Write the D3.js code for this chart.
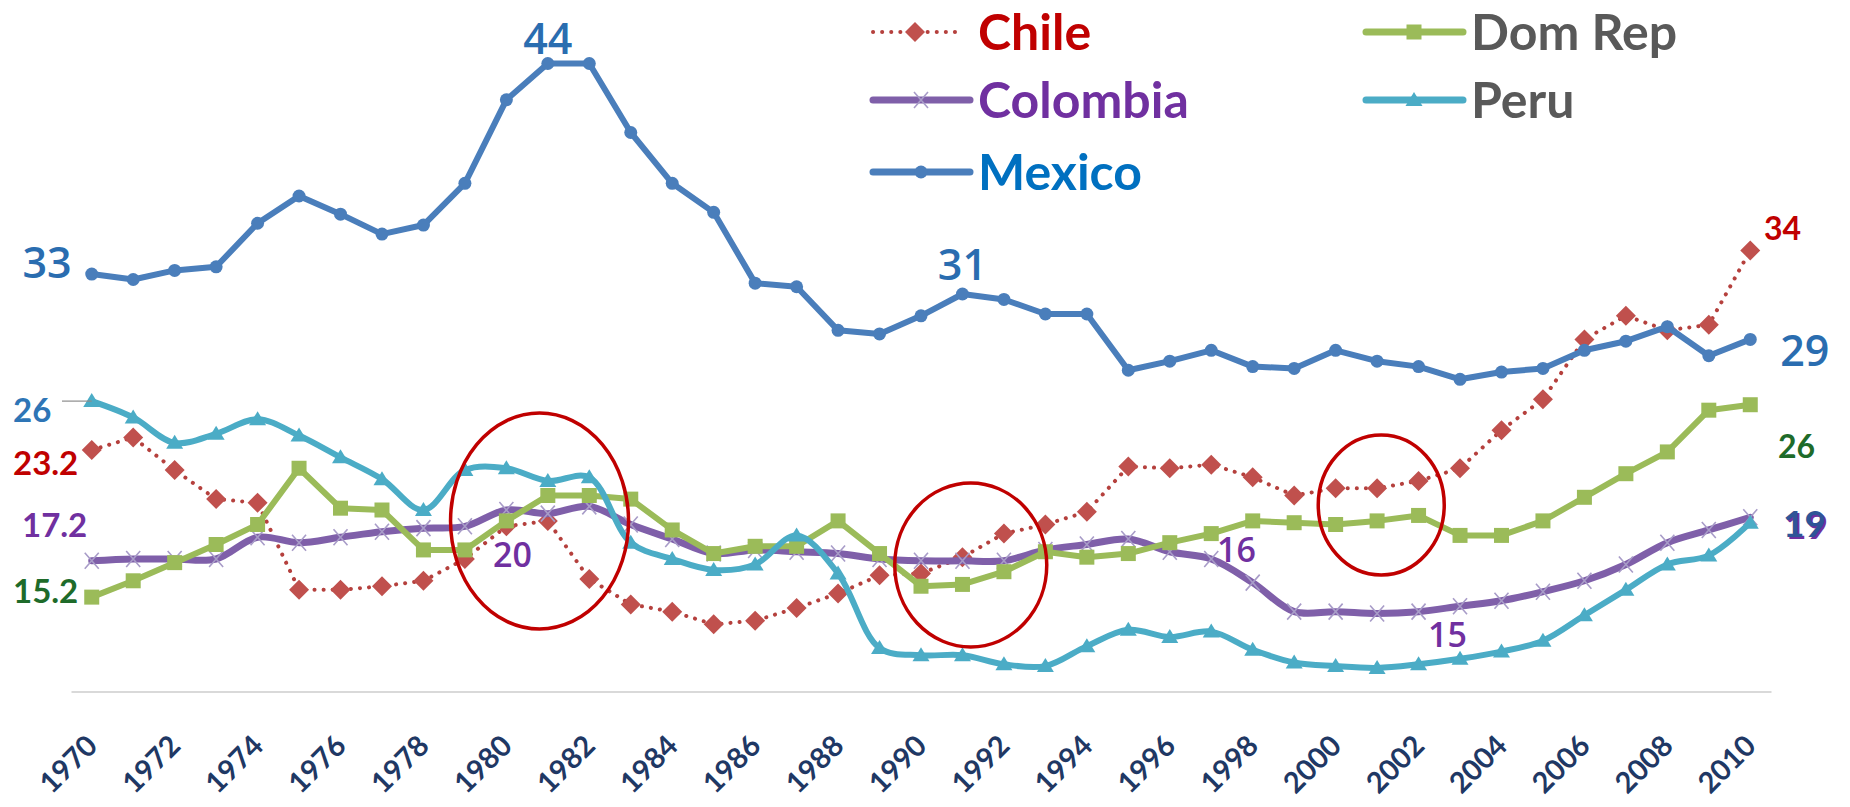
<!DOCTYPE html>
<html>
<head>
<meta charset="utf-8">
<script src="https://cdn.jsdelivr.net/npm/d3@7"></script>
<style>
  body { margin: 0; background: #fff; }
  svg { display: block; font-family: Lato, "Open Sans", sans-serif; }
</style>
</head>
<body>
<div id="chart"></div>
<script>
// data
const years = d3.range(1970, 2011);
const yearLabels = years.filter(d => d % 2 === 0);

const chile = [23.3, 24.0, 22.2, 20.6, 20.4, 15.6, 15.6, 15.8, 16.1, 17.3,
  19.1, 19.4, 16.2, 14.8, 14.4, 13.7, 13.9, 14.6, 15.4, 16.4,
  16.5, 17.4, 18.7, 19.2, 19.9, 22.4, 22.3, 22.5, 21.8, 20.8,
  21.2, 21.2, 21.6, 22.3, 24.4, 26.1, 29.4, 30.7, 29.9, 30.2, 34.3];
const colombia = [17.2, 17.3, 17.3, 17.3, 18.5, 18.2, 18.5, 18.8, 19.0, 19.1,
  20.0, 19.8, 20.2, 19.2, 18.4, 17.6, 17.8, 17.7, 17.6, 17.3,
  17.2, 17.2, 17.2, 17.8, 18.1, 18.4, 17.7, 17.3, 16.0, 14.4,
  14.4, 14.3, 14.4, 14.7, 15.0, 15.5, 16.1, 17.0, 18.2, 18.9, 19.6];
const mexico = [33.0, 32.7, 33.2, 33.4, 35.8, 37.3, 36.3, 35.2, 35.7, 38.0,
  42.6, 44.6, 44.6, 40.8, 38.0, 36.4, 32.5, 32.3, 29.9, 29.7,
  30.7, 31.9, 31.6, 30.8, 30.8, 27.7, 28.2, 28.8, 27.9, 27.8,
  28.8, 28.2, 27.9, 27.2, 27.6, 27.8, 28.8, 29.3, 30.1, 28.5, 29.4];
const domRep = [15.2, 16.1, 17.1, 18.1, 19.2, 22.3, 20.1, 20.0, 17.8, 17.8,
  19.4, 20.8, 20.8, 20.6, 18.9, 17.6, 18.0, 18.0, 19.4, 17.6,
  15.8, 15.9, 16.6, 17.7, 17.4, 17.6, 18.2, 18.7, 19.4, 19.3,
  19.2, 19.4, 19.7, 18.6, 18.6, 19.4, 20.7, 22.0, 23.2, 25.5, 25.8];
const peru = [26.0, 25.1, 23.7, 24.2, 25.0, 24.1, 22.9, 21.7, 20.0, 22.2,
  22.3, 21.6, 21.8, 18.2, 17.3, 16.7, 17.0, 18.6, 16.5, 12.4,
  12.0, 12.0, 11.5, 11.4, 12.5, 13.4, 13.0, 13.3, 12.3, 11.6,
  11.4, 11.3, 11.5, 11.8, 12.2, 12.8, 14.2, 15.6, 17.0, 17.5, 19.3];

// value labels written on the chart: [year, value, text]
const mexicoLabels = [[1970, 33, "33"], [1981, 44, "44"], [1991, 31, "31"], [2010, 29, "29"]];
const startLabels = ["26", "23.2", "17.2", "15.2"];
const endLabels = ["34", "26", "19", "19"];
const colombiaLabels = ["20", "16", "15"];
// circled periods
const circledYears = [1980.8, 1991.2, 2001.1];

const svgWidth = 1850;
const svgHeight = 807;

const svg = d3.select("#chart")
  .append("svg")
  .attr("width", svgWidth)
  .attr("height", svgHeight);

const chartGroup = svg.append("g");

// scales
const x = d3.scalePoint().domain(years).range([71, 1771]).padding(0.5);
const y = d3.scaleLinear().domain([10, 45]).range([691.5, 56.25]);
// for the circles that sit between years
const xYear = d3.scaleLinear().domain([1970, 2010]).range([x(1970), x(2010)]);

// x axis
const xAxis = chartGroup.append("g")
  .attr("transform", `translate(0, ${y(10)})`)
  .call(d3.axisBottom(x).tickValues(yearLabels).tickSize(0).tickSizeOuter(0));
xAxis.select(".domain").attr("stroke", "#d9d9d9").attr("stroke-width", 2);
xAxis.selectAll("text")
  .attr("x", 0).attr("y", 0).attr("dy", 0)
  .attr("text-anchor", "end")
  .attr("transform", "translate(7, 56) rotate(-45)")
  .attr("font-family", "Lato, sans-serif")
  .attr("font-weight", "bold")
  .attr("font-size", "29px")
  .attr("fill", "#1f3864");

const series = [
  { name: "Chile", values: chile, color: "#c0504d", text: "#c00000", marker: "diamond", dotted: true },
  { name: "Colombia", values: colombia, color: "#7f5fa9", text: "#7030a0", marker: "cross", smooth: true, width: 7 },
  { name: "Mexico", values: mexico, color: "#4a7ebb", text: "#0070c0", marker: "circle" },
  { name: "Dom Rep", values: domRep, color: "#9bbb59", text: "#595959", marker: "square" },
  { name: "Peru", values: peru, color: "#4bacc6", text: "#595959", marker: "triangle", smooth: true }
];

const markerPath = {
  diamond: "M0,-10L10,0L0,10L-10,0Z",
  square: "M-7.5,-7.5H7.5V7.5H-7.5Z",
  triangle: "M0,-8L8.5,6H-8.5Z",
  cross: "M-7,-8L7,8M-7,8L7,-8"
};

function drawMarker(g, s) {
  if (s.marker === "circle") {
    g.append("circle").attr("r", 6.5).attr("fill", s.color);
  } else if (s.marker === "cross") {
    g.append("path").attr("d", markerPath.cross)
      .attr("stroke", "#a89cc8").attr("stroke-width", 1.6).attr("fill", "none");
  } else {
    g.append("path").attr("d", markerPath[s.marker]).attr("fill", s.color);
  }
}

// lines + markers
series.forEach(function (s) {
  const pts = years.map((yr, i) => ({ year: yr, value: s.values[i] }));
  const line = d3.line()
    .x(d => x(d.year))
    .y(d => y(d.value))
    .curve(s.smooth ? d3.curveCatmullRom.alpha(0.5) : d3.curveLinear);

  chartGroup.append("path")
    .datum(pts)
    .attr("fill", "none")
    .attr("stroke", s.dotted ? "#b5403d" : s.color)
    .attr("stroke-width", s.dotted ? 4 : (s.width || 6))
    .attr("stroke-linecap", "round")
    .attr("stroke-linejoin", "round")
    .attr("stroke-dasharray", s.dotted ? "0.1 9" : null)
    .attr("d", line);

  chartGroup.selectAll(null)
    .data(pts)
    .enter()
    .append("g")
    .attr("transform", d => `translate(${x(d.year)}, ${y(d.value)})`)
    .each(function () { drawMarker(d3.select(this), s); });
});

// red circles
chartGroup.selectAll(null)
  .data(circledYears)
  .enter()
  .append("ellipse")
  .attr("cx", d => xYear(d))
  .attr("cy", (d, i) => [521, 565, 505][i])
  .attr("rx", (d, i) => [89, 76, 63][i])
  .attr("ry", (d, i) => [108, 82, 70][i])
  .attr("fill", "none")
  .attr("stroke", "#c00000")
  .attr("stroke-width", 3.5);

// Mexico value labels
const mexOffset = [4, -20, -30, 19];
chartGroup.selectAll(null)
  .data(mexicoLabels)
  .enter()
  .append("text")
  .attr("x", (d, i) => i === 0 ? x(d[0]) - 20 : i === 3 ? x(d[0]) + 30 : x(d[0]))
  .attr("y", (d, i) => y(d[1]) + mexOffset[i])
  .attr("text-anchor", (d, i) => i === 0 ? "end" : i === 3 ? "start" : "middle")
  .attr("font-family", "'Open Sans', sans-serif")
  .attr("font-weight", 600)
  .attr("font-size", "43px")
  .attr("fill", "#2a6db0")
  .text(d => d[2]);

// labels at the start of the lines
const startColors = ["#2e75b6", "#c00000", "#7030a0", "#1e6b2a"];
const startY = [422, 475, 537, 603];
const startX = [13, 13, 22, 13];
chartGroup.selectAll(null)
  .data(startLabels)
  .enter()
  .append("text")
  .attr("x", (d, i) => startX[i])
  .attr("y", (d, i) => startY[i])
  .attr("font-size", "33px")
  .attr("font-weight", "bold")
  .attr("fill", (d, i) => startColors[i])
  .text(d => d);

// little leader line for Peru's 26
chartGroup.append("line")
  .attr("x1", 62).attr("x2", x(1970))
  .attr("y1", y(peru[0])).attr("y2", y(peru[0]))
  .attr("stroke", "#8c8c8c").attr("stroke-width", 1.2);

// labels at the end of the lines
const endColors = ["#c00000", "#1e6b2a", "#7030a0", "#2f5597"];
const endY = [240, 458, 539, 537];
const endX = [1764, 1778, 1785, 1783];
const endSize = [32, 32, 37, 37];
chartGroup.selectAll(null)
  .data(endLabels)
  .enter()
  .append("text")
  .attr("x", (d, i) => endX[i])
  .attr("y", (d, i) => endY[i])
  .attr("font-size", (d, i) => endSize[i] + "px")
  .attr("font-weight", "bold")
  .attr("fill", (d, i) => endColors[i])
  .text(d => d);

// Colombia labels in the middle
const colX = [493, 1217, 1428];
const colY = [567, 562, 647];
chartGroup.selectAll(null)
  .data(colombiaLabels)
  .enter()
  .append("text")
  .attr("x", (d, i) => colX[i])
  .attr("y", (d, i) => colY[i])
  .attr("font-family", "'Open Sans', sans-serif")
  .attr("font-weight", 600)
  .attr("font-size", "34px")
  .attr("fill", "#7030a0")
  .text(d => d);

// legend, 2 columns
const legendX = [873, 873, 873, 1366, 1366];
const legendY = [32, 100, 172, 32, 100];
const legend = chartGroup.selectAll(".legend")
  .data(series)
  .enter()
  .append("g")
  .attr("class", "legend")
  .attr("transform", (d, i) => `translate(${legendX[i]}, ${legendY[i]})`);

legend.append("line")
  .attr("x1", 0).attr("x2", d => d.dotted ? 84 : 97)
  .attr("stroke", d => d.dotted ? "#b5403d" : d.color)
  .attr("stroke-width", d => d.dotted ? 4 : 7)
  .attr("stroke-linecap", "round")
  .attr("stroke-dasharray", d => d.dotted ? "0.1 9" : null);

legend.append("g")
  .attr("transform", d => `translate(${d.dotted ? 42 : 48}, 0)`)
  .each(function (d) { drawMarker(d3.select(this), d); });

legend.append("text")
  .attr("x", 105)
  .attr("dy", "0.36em")
  .attr("font-size", "50px")
  .attr("font-weight", "bold")
  .attr("fill", d => d.text)
  .text(d => d.name);
</script>
</body>
</html>
